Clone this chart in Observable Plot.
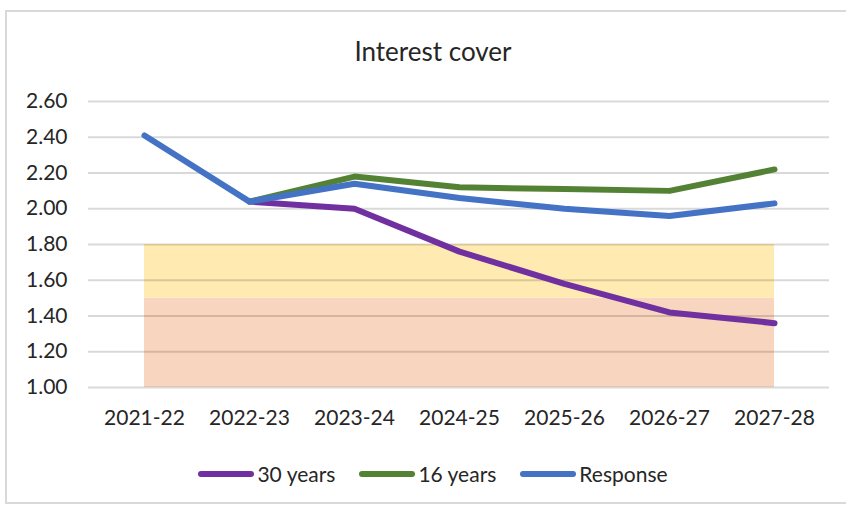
<!DOCTYPE html>
<html>
<head>
<meta charset="utf-8">
<script src="https://cdn.jsdelivr.net/npm/d3@7"></script>
<script src="https://cdn.jsdelivr.net/npm/@observablehq/plot@0.6"></script>
<style>
  html, body { margin: 0; padding: 0; background: #fff; }
  body { width: 846px; height: 507px; position: relative; overflow: hidden; font-family: Lato, "Open Sans", sans-serif; color: #404040; }
  #frame { position: absolute; left: 5px; top: 10px; width: 900px; height: 494px; border: 2px solid #d9d9d9; box-sizing: border-box; }
  #title { position: absolute; left: 0; width: 866px; top: 35px; text-align: center; font-size: 26px; line-height: 32px; color: #262626; }
  #chart { position: absolute; left: 0; top: 80px; }
  #legend { position: absolute; left: 0; width: 866px; top: 460px; display: flex; justify-content: center; gap: 24px; font-size: 21px; line-height: 28px; color: #262626; }
  #legend .item { display: flex; align-items: center; }
  #legend .swatch { width: 56px; height: 6px; border-radius: 3px; margin-right: 3px; }
</style>
</head>
<body>
<div id="frame"></div>
<div id="title">Interest cover</div>
<div id="chart"></div>
<div id="legend"></div>
<script>
// Financial years along the x axis
const years = ["2021-22", "2022-23", "2023-24", "2024-25", "2025-26", "2026-27", "2027-28"];

// Interest cover ratio by scenario (null = no value for that year)
const thirtyYears = [null, 2.04, 2.00, 1.76, 1.58, 1.42, 1.36];
const sixteenYears = [null, 2.04, 2.18, 2.12, 2.11, 2.10, 2.22];
const response = [2.41, 2.04, 2.14, 2.06, 2.00, 1.96, 2.03];

// Y axis ticks
const yTicks = [1.0, 1.2, 1.4, 1.6, 1.8, 2.0, 2.2, 2.4, 2.6];

// Threshold bands behind the lines
const bands = [
  {from: 1.0, to: 1.5, color: "#f8d5bf"},
  {from: 1.5, to: 1.8, color: "#ffeab1"}
];

const series = [
  {name: "30 years", values: thirtyYears, color: "#7030a0"},
  {name: "16 years", values: sixteenYears, color: "#548235"},
  {name: "Response", values: response, color: "#4472c4"}
];

const rows = series.flatMap(s =>
  years.map((year, i) => ({series: s.name, year, value: s.values[i]}))
       .filter(d => d.value != null)
);

const chart = Plot.plot({
  width: 846,
  height: 370,
  marginLeft: 88,
  marginRight: 17,
  marginTop: 21,
  marginBottom: 63,
  style: {fontFamily: "Lato, 'Open Sans', sans-serif", fontSize: "21px", color: "#404040", background: "transparent"},
  x: {type: "point", domain: years, padding: 0.5, label: null},
  y: {domain: [1.0, 2.6], label: null},
  color: {domain: series.map(s => s.name), range: series.map(s => s.color)},
  marks: [
    Plot.rect(bands, {
      x1: () => years[0],
      x2: () => years[years.length - 1],
      y1: "from",
      y2: "to",
      fill: "color"
    }),
    Plot.gridY(yTicks, {stroke: "#000", strokeOpacity: 0.15, strokeWidth: 2}),
    Plot.axisY(yTicks, {tickSize: 0, tickPadding: 21, tickFormat: d3.format(".2f"), fontSize: 21, fill: "#262626", label: null}),
    Plot.axisX({tickSize: 0, tickPadding: 23, fontSize: 21, fill: "#262626", label: null}),
    Plot.line(rows, {
      x: "year",
      y: "value",
      z: "series",
      stroke: "series",
      strokeWidth: 6,
      strokeLinecap: "round",
      strokeLinejoin: "round"
    })
  ]
});
document.getElementById("chart").appendChild(chart);

// Legend under the chart
const legend = document.getElementById("legend");
for (const s of series) {
  const item = document.createElement("div");
  item.className = "item";
  const sw = document.createElement("span");
  sw.className = "swatch";
  sw.style.background = s.color;
  const label = document.createElement("span");
  label.textContent = s.name;
  item.appendChild(sw);
  item.appendChild(label);
  legend.appendChild(item);
}
</script>
</body>
</html>
